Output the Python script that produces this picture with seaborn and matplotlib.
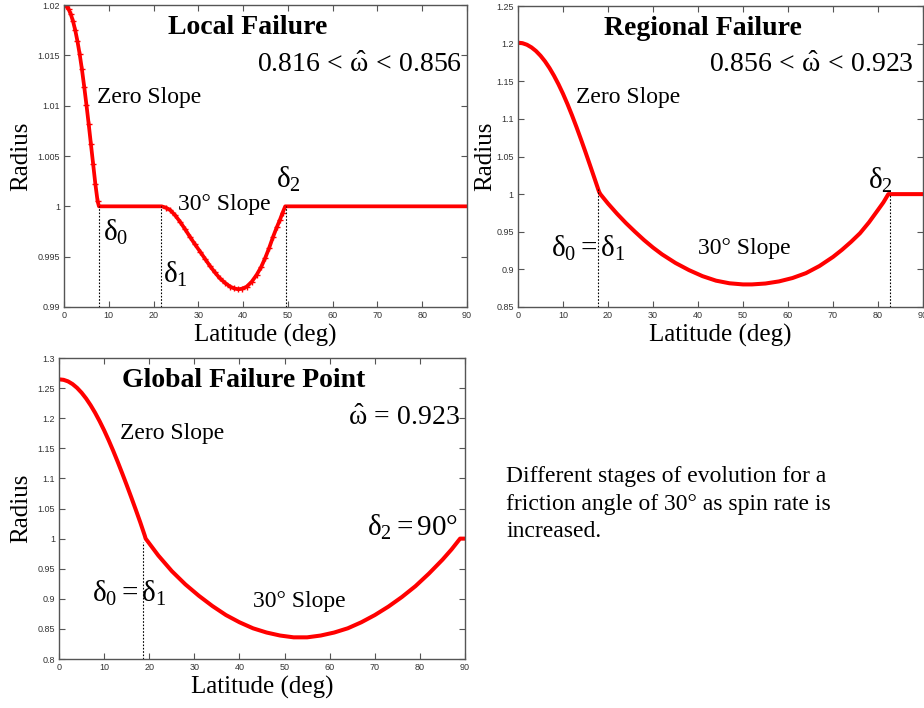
import numpy as np
import pandas as pd
import seaborn as sns
import matplotlib.pyplot as plt

# values
lat_local = [0, 0.5, 1, 1.5, 2, 2.5, 3, 3.5, 4, 4.5, 5, 5.5, 6, 6.5, 7, 7.5, 7.8,
             10, 12, 14, 16, 18, 20, 21.8, 22.7, 23.7, 24.8, 25.9, 27, 28.1, 29.2, 30.4,
             31.5, 32.6, 33.7, 34.8, 36, 37.1, 38, 38.9, 39.8, 40.8, 41.9, 43.0, 44, 44.9,
             45.8, 46.7, 47.5, 48.2, 48.8, 49.4, 52, 56, 60, 64, 68, 72, 76, 80, 84, 88, 90]
rad_local = [1.0200, 1.0199, 1.0196, 1.0191, 1.0184, 1.0175, 1.0164, 1.0151, 1.0136, 1.0119,
             1.0101, 1.0082, 1.0062, 1.0042, 1.0022, 1.0005, 1.0000,
             1.0, 1.0, 1.0, 1.0, 1.0, 1.0, 1.0000, 0.99988, 0.99964, 0.99912, 0.99848, 0.99775,
             0.99699, 0.99625, 0.99550, 0.99478, 0.99407, 0.99343, 0.99285, 0.99238, 0.99202,
             0.99185, 0.99176, 0.99182, 0.99202, 0.99250, 0.99318, 0.99395, 0.99484, 0.99585,
             0.99699, 0.99790, 0.99864, 0.99935, 1.0000, 1.0, 1.0, 1.0, 1.0, 1.0, 1.0, 1.0,
             1.0, 1.0, 1.0, 1.0]

lat_regional = [0, 1, 2, 3, 4, 5, 6, 7, 8, 9, 10, 11, 12, 13, 14, 15, 16, 17, 18, 18.3,
                20, 22, 24, 26, 28, 30, 32, 35, 38, 41, 44, 47, 50, 52, 55, 58, 61, 64, 67,
                70, 72, 74, 76, 78, 80, 81.2, 82.3, 86, 90]
rad_regional = [1.2013, 1.2006, 1.1985, 1.1950, 1.1902, 1.1840, 1.1765, 1.1676, 1.1574,
                1.1460, 1.1334, 1.1196, 1.1048, 1.0891, 1.0727, 1.0558, 1.0385, 1.0210,
                1.0034, 1.0000, 0.9875, 0.9740, 0.9615, 0.9500, 0.9390, 0.9290, 0.9200,
                0.9085, 0.8990, 0.8910, 0.8850, 0.8815, 0.8800, 0.8800, 0.8812, 0.8840,
                0.8885, 0.8950, 0.9045, 0.9165, 0.9260, 0.9365, 0.9480, 0.9625, 0.9790,
                0.9890, 1.0000, 1.0, 1.0]

lat_global = [0, 1, 2, 3, 4, 5, 6, 7, 8, 9, 10, 11, 12, 13, 14, 15, 16, 17, 18, 19, 19.2,
              22, 25, 28, 31, 34, 37, 40, 43, 46, 49, 52, 55, 58, 61, 64, 67, 70, 73, 76,
              79, 82, 85, 87, 88.9, 90]
rad_global = [1.2646, 1.2638, 1.2612, 1.2567, 1.2504, 1.2424, 1.2328, 1.2216, 1.2090,
              1.1950, 1.1798, 1.1634, 1.1460, 1.1276, 1.1085, 1.0889, 1.0688, 1.0482,
              1.0272, 1.0050, 1.0000, 0.9720, 0.9460, 0.9240, 0.9050, 0.8880, 0.8730,
              0.8610, 0.8510, 0.8440, 0.8390, 0.8360, 0.8360, 0.8390, 0.8440, 0.8510,
              0.8610, 0.8730, 0.8870, 0.9030, 0.9210, 0.9420, 0.9650, 0.9820, 1.0000, 1.0]

titles = ["Local Failure", "Regional Failure", "Global Failure Point"]
omega_labels = [r"$0.816\,<\,\hat{\omega}\,<\,0.856$", r"$0.856\,<\,\hat{\omega}\,<\,0.923$",
                r"$\hat{\omega}\,=\,0.923$"]

sns.set_style("ticks")
plt.rcParams["font.family"] = ["Liberation Serif", "DejaVu Serif"]
plt.rcParams["mathtext.fontset"] = "stix"
plt.rcParams["mathtext.default"] = "regular"
plt.rcParams["text.color"] = "black"
plt.rcParams["axes.labelcolor"] = "black"

fig = plt.figure(figsize=(9.24, 7.08), dpi=100)
ax1 = fig.add_axes([0.0693, 0.5664, 0.4361, 0.4265])
ax2 = fig.add_axes([0.5606, 0.5664, 0.4383, 0.4251])
ax3 = fig.add_axes([0.0639, 0.0692, 0.4394, 0.4251])

df1 = pd.DataFrame({"lat": lat_local, "rad": rad_local})
df2 = pd.DataFrame({"lat": lat_regional, "rad": rad_regional})
df3 = pd.DataFrame({"lat": lat_global, "rad": rad_global})

# crosses only where the curve is not flat (they merge into the line elsewhere)
sloped = [i for i, r in enumerate(rad_local) if r != 1.0]
sns.lineplot(data=df1, x="lat", y="rad", ax=ax1, color="red", lw=2.7, marker="+",
             markersize=4.5, markeredgewidth=1, markeredgecolor="red", markevery=sloped,
             sort=False)
sns.lineplot(data=df2, x="lat", y="rad", ax=ax2, color="red", lw=2.9, sort=False)
sns.lineplot(data=df3, x="lat", y="rad", ax=ax3, color="red", lw=2.9, sort=False)

ylims = [(0.99, 1.02), (0.85, 1.25), (0.8, 1.3)]
ysteps = [0.005, 0.05, 0.05]
ylab_x = [-0.107, -0.081, -0.092]
for ax, yl, st, lx, t in zip([ax1, ax2, ax3], ylims, ysteps, ylab_x, titles):
    ax.set_xlim(0, 90)
    ax.set_ylim(*yl)
    ax.set_xticks(range(0, 91, 10))
    yt = np.round(np.arange(yl[0], yl[1] + st / 2, st), 3)
    ax.set_yticks(yt)
    ax.set_yticklabels([f"{v:g}" for v in yt])
    ax.tick_params(direction="in", top=True, right=True, length=4, width=0.8, color="#555555",
                   labelsize=6.5, labelcolor="#333333", pad=3)
    for lab in ax.get_xticklabels() + ax.get_yticklabels():
        lab.set_fontfamily("Liberation Sans")
    for s in ax.spines.values():
        s.set_color("#555555")
        s.set_linewidth(1)
    ax.set_xlabel("Latitude (deg)", fontsize=18, va="center")
    ax.set_ylabel("Radius", fontsize=18, va="center")
    ax.xaxis.set_label_coords(0.5, -0.093)
    ax.yaxis.set_label_coords(lx, 0.5)
    ax.text(41, yl[0] + 0.925 * (yl[1] - yl[0]), t, fontsize=20, fontweight="bold",
            ha="center", va="center")

# dotted markers of delta positions
dot = dict(color="black", ls=(0, (1.5, 1.5)), lw=0.8)
ax1.plot([7.8, 7.8], [0.99, 1.0], **dot)
ax1.plot([21.7, 21.7], [0.99, 1.0], **dot)
ax1.plot([49.6, 49.6], [0.99, 1.0], **dot)
ax2.plot([17.7, 17.7], [0.85, 1.007], **dot)
ax2.plot([82.6, 82.6], [0.85, 1.0], **dot)
ax3.plot([18.5, 18.5], [0.8, 0.995], **dot)

# panel 1 annotations
ax1.text(88.9, 1.014, omega_labels[0], fontsize=20, ha="right", va="center")
ax1.text(7.4, 1.0108, "Zero Slope", fontsize=17, va="center")
ax1.text(25.5, 1.0002, "30° Slope", fontsize=17, va="center")
ax1.text(8.6, 0.9974, r"$\delta_0$", fontsize=21, va="center")
ax1.text(22.0, 0.9932, r"$\delta_1$", fontsize=21, va="center")
ax1.text(47.4, 1.0027, r"$\delta_2$", fontsize=21, va="center")

# panel 2 annotations
ax2.text(88.0, 1.1715, omega_labels[1], fontsize=20, ha="right", va="center")
ax2.text(12.9, 1.1285, "Zero Slope", fontsize=17, va="center")
ax2.text(7.4, 0.9276, r"$\delta_0 = \delta_1$", fontsize=21, va="center")
ax2.text(40.1, 0.9276, "30° Slope", fontsize=17, va="center")
ax2.text(77.8, 1.0185, r"$\delta_2$", fontsize=21, va="center")

# panel 3 annotations
ax3.text(88.8, 1.2, omega_labels[2], fontsize=20, ha="right", va="center")
ax3.text(13.6, 1.175, "Zero Slope", fontsize=17, va="center")
ax3.text(7.2, 0.909, r"$\delta_0 = \delta_1$", fontsize=21, va="center")
ax3.text(43.0, 0.895, "30° Slope", fontsize=17, va="center")
ax3.text(88.5, 1.019, r"$\delta_2 = 90°$", fontsize=21, ha="right", va="center")

fig.text(506 / 924, 1 - 466 / 708,
         "Different stages of evolution for a\nfriction angle of 30° as spin rate is\nincreased.",
         fontsize=17, ha="left", va="top", linespacing=1.42)

fig.savefig("out.png", dpi=100)
